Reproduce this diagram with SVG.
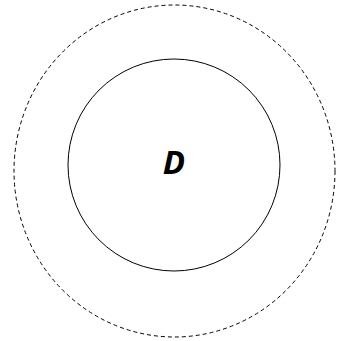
<svg xmlns="http://www.w3.org/2000/svg" width="349" height="341" viewBox="0 0 349 341">
<style>
.outer{fill:none;stroke:#000;stroke-width:1;stroke-dasharray:4,3}
.inner{fill:none;stroke:#000;stroke-width:1}
.lbl{font-family:"Open Sans","DejaVu Sans",sans-serif;font-weight:bold;font-style:italic;font-size:33px;fill:#000}
</style>
<g id="outer"><ellipse class="outer" cx="174.5" cy="171" rx="160.5" ry="166"/></g>
<g id="D"><circle class="inner" cx="174" cy="165" r="106"/><text class="lbl" x="174" y="174" text-anchor="middle">D</text></g>
</svg>
